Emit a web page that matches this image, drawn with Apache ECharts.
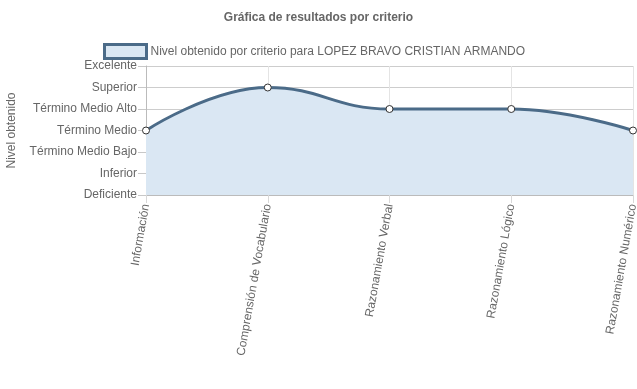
<!DOCTYPE html>
<html><head><meta charset="utf-8">
<script src="https://cdn.jsdelivr.net/npm/echarts@6/dist/echarts.min.js"></script>
<style>html,body{margin:0;padding:0;background:#fff}#c{width:637px;height:389px}</style>
</head><body><div id="c"></div>
<script>
const categories = ['Información', 'Comprensión de Vocabulario', 'Razonamiento Verbal', 'Razonamiento Lógico', 'Razonamiento Numérico'];
const levelLabels = ['Deficiente', 'Inferior', 'Término Medio Bajo', 'Término Medio', 'Término Medio Alto', 'Superior', 'Excelente'];
const values = [3, 5, 4, 4, 3];
const seriesName = 'Nivel obtenido por criterio para LOPEZ BRAVO CRISTIAN ARMANDO';
const titleText = 'Gráfica de resultados por criterio';
const yAxisName = 'Nivel obtenido';

const font = 'Liberation Sans, Arial, Helvetica, sans-serif';
const chart = echarts.init(document.getElementById('c'));
chart.setOption({
  animation: false,
  title: { text: titleText, left: 'center', top: 7, textStyle: { fontFamily: font, fontSize: 12, fontWeight: 'bold', color: '#666' } },
  legend: {
    top: 43, left: 103, padding: 0, itemWidth: 42, itemHeight: 14, itemGap: 4,
    textStyle: { fontFamily: font, fontSize: 12, color: '#666', padding: [0, 0, 0, -1] },
    data: [{ name: seriesName, icon: 'rect', itemStyle: { color: '#dae7f3', borderColor: '#4b6b88', borderWidth: 3 } }]
  },
  grid: { left: 146, right: 4, top: 66, bottom: 194, containLabel: false, outerBoundsMode: 'none' },
  xAxis: {
    type: 'category', data: categories, boundaryGap: false,
    axisLine: { show: true, lineStyle: { color: '#bbb' } },
    axisTick: { show: true, length: 8, lineStyle: { color: '#d8d8d8' } },
    splitLine: { show: true, lineStyle: { color: '#e4e4e4' } },
    axisLabel: { rotate: 80, margin: 9, fontFamily: font, fontSize: 12, color: '#666' }
  },
  yAxis: {
    type: 'value', min: 0, max: 6, interval: 1,
    name: yAxisName, nameLocation: 'middle', nameGap: 128, nameRotate: 90,
    nameTextStyle: { fontFamily: font, fontSize: 12, color: '#666' },
    axisLine: { show: true, lineStyle: { color: '#bbb' } },
    axisTick: { show: true, length: 8, lineStyle: { color: '#c8c8c8' } },
    splitLine: { show: true, lineStyle: { color: '#cdcdcd' } },
    axisLabel: { margin: 9, fontFamily: font, fontSize: 12, color: '#666', formatter: v => levelLabels[v] }
  },
  series: [{
    name: seriesName, type: 'line', data: values, smooth: 0.45,
    symbol: 'circle', symbolSize: 7,
    lineStyle: { color: '#4b6b88', width: 3 },
    itemStyle: { color: '#fff', borderColor: '#333', borderWidth: 1 },
    areaStyle: { color: '#dae7f3', opacity: 1 }
  }]
});
</script></body></html>
